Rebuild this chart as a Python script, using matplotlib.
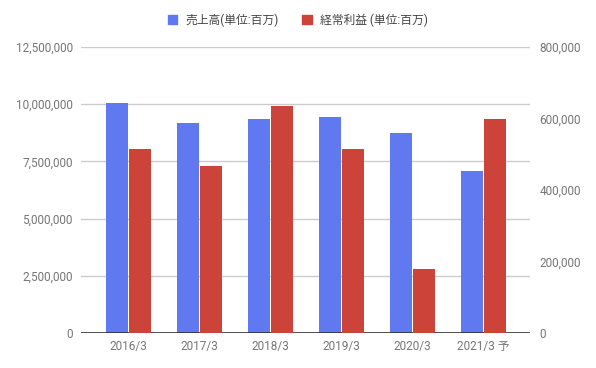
import matplotlib.pyplot as plt
from matplotlib.patches import Patch
from matplotlib.ticker import FuncFormatter
import numpy as np

plt.rcParams['font.family'] = ['Roboto', 'Noto Sans CJK JP', 'DejaVu Sans']

jahre = ['2016/3', '2017/3', '2018/3', '2019/3', '2020/3', '2021/3 予']
umsatz = [10050000, 9160000, 9370000, 9450000, 8750000, 7060000]
gewinn = [515000, 467000, 636000, 515000, 179000, 600000]
name_umsatz = '売上高(単位:百万)'
name_gewinn = '経常利益 (単位:百万)'

blau = '#6079f0'
rot = '#cc4339'
grau = '#757575'

fig = plt.figure(figsize=(5.96, 3.68), dpi=100)
ax = fig.add_axes([81/596, 35/368, 449/596, 286/368])
ax2 = ax.twinx()

x = np.arange(len(jahre))
b = 0.305
ax.bar(x - 0.162, umsatz, width=b, color=blau, zorder=3)
ax2.bar(x + 0.162, gewinn, width=b, color=rot, zorder=3)

ax.set_xlim(-0.669, 5.655)
ax.set_ylim(0, 12500000)
ax.set_yticks(np.arange(0, 12500001, 2500000))
ax.yaxis.set_major_formatter(FuncFormatter(lambda v, p: f'{int(v):,}'))
ax2.set_ylim(0, 800000)
ax2.set_yticks(np.arange(0, 800001, 200000))
ax2.yaxis.set_major_formatter(FuncFormatter(lambda v, p: f'{int(v):,}'))

ax.set_xticks(x)
ax.set_xticklabels(jahre)
ax.grid(axis='y', color='#cccccc', linewidth=1, zorder=0)
ax.set_axisbelow(True)
ax.axhline(0, color='#333333', linewidth=1.2, zorder=4)

for a in (ax, ax2):
    for s in a.spines.values():
        s.set_visible(False)
    a.tick_params(length=0, labelsize=8.5, labelcolor=grau)
ax.tick_params(axis='y', pad=6)
ax.tick_params(axis='x', pad=5)
ax2.tick_params(axis='y', pad=7)

griffe = [Patch(color=blau), Patch(color=rot)]
fig.legend(griffe, [name_umsatz, name_gewinn], loc='center', bbox_to_anchor=(0.5, 348/368),
           ncol=2, frameon=False, fontsize=8.5, labelcolor='#444444',
           handlelength=0.8, handleheight=0.8, handletextpad=0.7, columnspacing=2.0)

fig.savefig('out.png', dpi=100)
